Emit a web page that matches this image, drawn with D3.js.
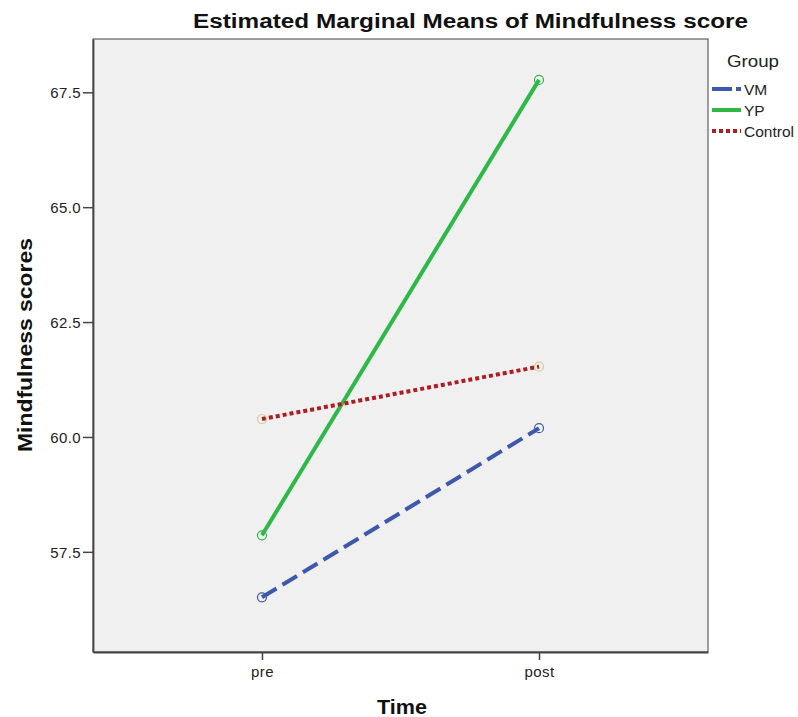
<!DOCTYPE html>
<html>
<head>
<meta charset="utf-8">
<script src="https://cdn.jsdelivr.net/npm/d3@7"></script>
<style>
  body { margin: 0; background: #fff; }
  text { font-family: Arial, 'Liberation Sans', sans-serif; }
</style>
</head>
<body>
<svg id="chart" width="798" height="717"></svg>
<script>
// time points and estimated marginal means per group
const times = ['pre', 'post'];
const groups = ['VM', 'YP', 'Control'];
const vmValues = [56.51, 60.19];
const ypValues = [57.86, 67.77];
const controlValues = [60.39, 61.53];
const yTicks = [57.5, 60.0, 62.5, 65.0, 67.5];

const lineColors = { VM: '#3e58ac', YP: '#2eb848', Control: '#b01c22' };
const markerColors = { VM: '#3e58ac', YP: '#2eb848', Control: '#d3ce97' };
const dashes = { VM: '17,7', YP: null, Control: '4,3' };

const series = [
  { name: 'VM', values: vmValues },
  { name: 'YP', values: ypValues },
  { name: 'Control', values: controlValues },
];

const margin = { left: 93, right: 90, top: 39, bottom: 65 };
const svg = d3.select('#chart');
const width = 798;
const height = 717;
const innerWidth = width - margin.left - margin.right;
const innerHeight = height - margin.top - margin.bottom;

const xScale = d3.scalePoint().domain(times).range([0, innerWidth]).padding(0.61);
const yScale = d3.scaleLinear().domain([55.32, 68.66]).range([innerHeight, 0]);

const g = svg.append('g').attr('transform', `translate(${margin.left},${margin.top})`);

g.append('rect')
  .attr('width', innerWidth)
  .attr('height', innerHeight)
  .attr('fill', '#f0f0f0')
  .attr('stroke', '#444')
  .attr('stroke-width', 1);

const yAxis = d3.axisLeft(yScale)
  .tickValues(yTicks)
  .tickFormat(d3.format('.1f'))
  .tickSize(10)
  .tickSizeOuter(0)
  .tickPadding(2);
const xAxis = d3.axisBottom(xScale).tickSize(8).tickSizeOuter(0).tickPadding(6);

const yAxisG = g.append('g').call(yAxis);
const xAxisG = g.append('g').attr('transform', `translate(0,${innerHeight})`).call(xAxis);

[yAxisG, xAxisG].forEach((ax) => {
  ax.select('.domain').attr('stroke', '#444').attr('stroke-width', 1.8);
  ax.selectAll('.tick line').attr('stroke', '#444').attr('stroke-width', 1.5);
  ax.selectAll('.tick text')
    .attr('fill', '#222')
    .style('font-size', '15px')
    .style('letter-spacing', '0.4px');
});
yAxisG.selectAll('.tick text').attr('dy', '0.35em');

const line = d3.line()
  .x((d, i) => xScale(times[i]))
  .y((d) => yScale(d));

series.forEach((s) => {
  g.append('path')
    .datum(s.values)
    .attr('d', line)
    .attr('fill', 'none')
    .attr('stroke', lineColors[s.name])
    .attr('stroke-width', 4)
    .attr('stroke-dasharray', dashes[s.name]);

  g.selectAll(null)
    .data(s.values)
    .enter()
    .append('circle')
    .attr('cx', (d, i) => xScale(times[i]))
    .attr('cy', (d) => yScale(d))
    .attr('r', 4.5)
    .attr('fill', 'none')
    .attr('stroke', markerColors[s.name])
    .attr('stroke-width', 1.2);
});

// titles
svg.append('text')
  .attr('x', 193)
  .attr('y', 28)
  .attr('textLength', 555)
  .attr('lengthAdjust', 'spacingAndGlyphs')
  .style('font-size', '20px')
  .style('font-weight', 'bold')
  .attr('fill', '#111')
  .text('Estimated Marginal Means of Mindfulness score');

svg.append('text')
  .attr('x', 377)
  .attr('y', 714)
  .attr('textLength', 50)
  .attr('lengthAdjust', 'spacingAndGlyphs')
  .style('font-size', '20px')
  .style('font-weight', 'bold')
  .attr('fill', '#111')
  .text('Time');

svg.append('text')
  .attr('transform', 'translate(32,452) rotate(-90)')
  .attr('textLength', 214)
  .attr('lengthAdjust', 'spacingAndGlyphs')
  .style('font-size', '21px')
  .style('font-weight', 'bold')
  .attr('fill', '#111')
  .text('Mindfulness scores');

// legend
const legend = svg.append('g').attr('transform', 'translate(712,0)');
legend.append('text')
  .attr('x', 15)
  .attr('y', 67)
  .attr('textLength', 52)
  .attr('lengthAdjust', 'spacingAndGlyphs')
  .style('font-size', '17px')
  .attr('fill', '#222')
  .text('Group');

legend.selectAll('.item')
  .data(groups)
  .enter()
  .append('g')
  .attr('class', 'item')
  .attr('transform', (d, i) => `translate(0,${89 + i * 21})`)
  .each(function (d) {
    const item = d3.select(this);
    item.append('line')
      .attr('x1', 0)
      .attr('x2', 29)
      .attr('stroke', lineColors[d])
      .attr('stroke-width', 4)
      .attr('stroke-dasharray', d === 'VM' ? '20,4' : dashes[d]);
    item.append('text')
      .attr('x', 32)
      .attr('y', 6)
      .style('font-size', '15.5px')
      .attr('fill', '#222')
      .text(d);
  });
</script>
</body>
</html>
